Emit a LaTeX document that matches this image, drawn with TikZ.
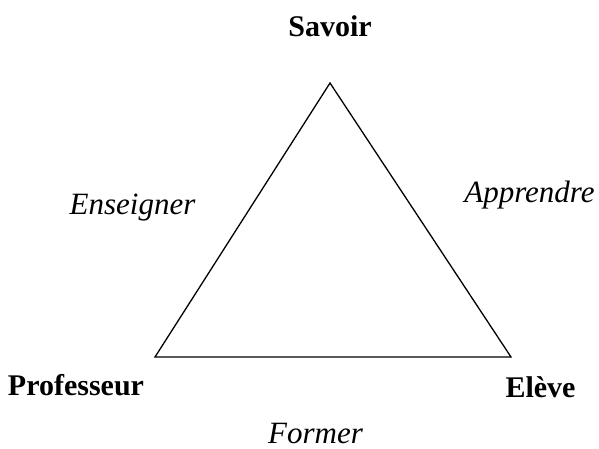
\documentclass[tikz,border=0pt]{standalone}
\usepackage{fontspec}
\setmainfont{Liberation Serif}
\usepackage{tikz}
\usetikzlibrary{positioning,calc}
\tikzset{
    pole/.style={
        anchor=base,
        inner sep=0pt,
        font=\fontsize{30}{36}\selectfont\bfseries,
    },
    process/.style={
        anchor=base,
        inner sep=0pt,
        font=\fontsize{31}{37}\selectfont\itshape,
    },
    side/.style={
        draw=black,
        line width=1.3pt,
        line join=miter,
    },
}
\begin{document}
\begin{tikzpicture}[x=1pt,y=-1pt]
    \useasboundingbox (0,0) rectangle (599,448);
    \coordinate (S) at (330,83);
    \coordinate (P) at (155,357);
    \coordinate (E) at (511,357);
    \draw[side] (S) -- (E) -- (P) -- cycle;
    \node [pole] (savoir) at (330,36) {Savoir};
    \node [pole] (prof) at (76,395) {Professeur};
    \node [pole] (eleve) at (540.5,397) {Elève};
    \node [process] (enseigner) at (132.5,214) {Enseigner};
    \node [process] (apprendre) at (529.5,202) {Apprendre};
    \node [process] (former) at (315.5,443) {Former};
\end{tikzpicture}
\end{document}
